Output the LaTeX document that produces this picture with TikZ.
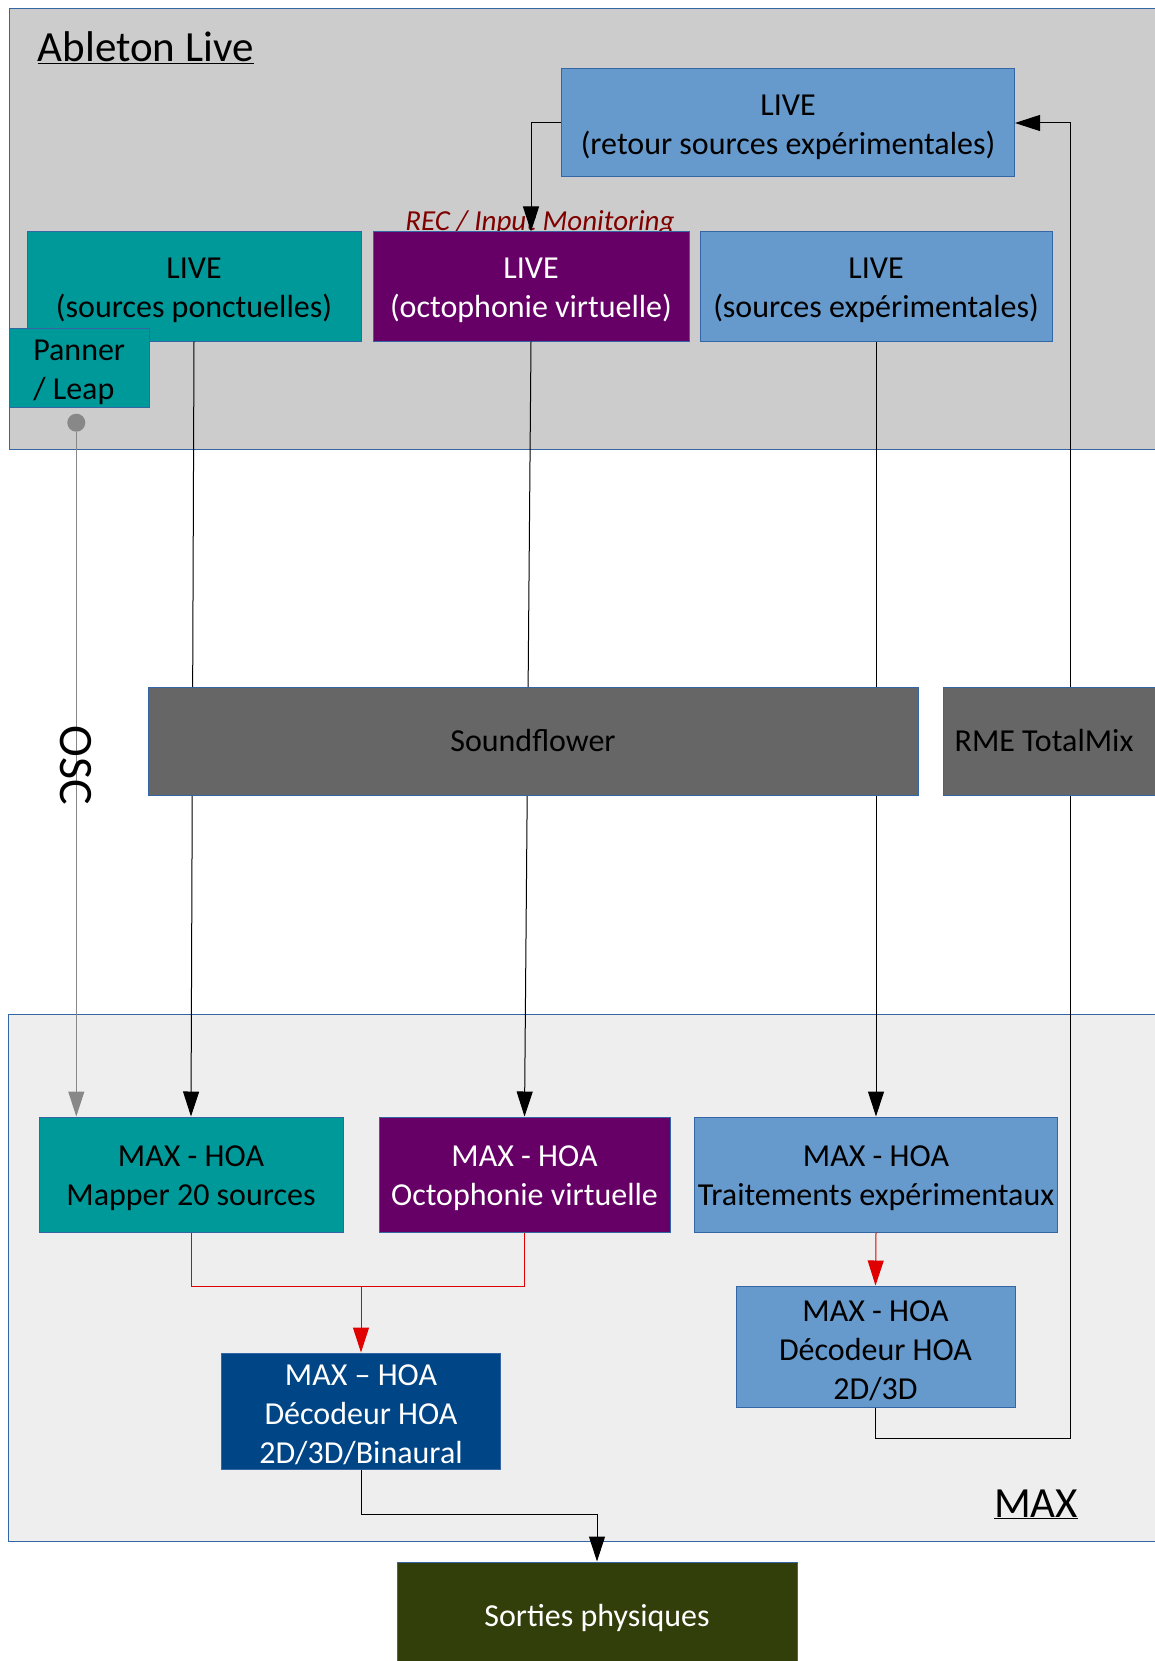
\documentclass[tikz,border=0pt]{standalone}
\usepackage{fontspec}
\setmainfont{Carlito}
\usetikzlibrary{arrows.meta}
\definecolor{cteal}{HTML}{009999}
\definecolor{cpurple}{HTML}{660066}
\definecolor{cblue}{HTML}{6699CC}
\definecolor{cdarkblue}{HTML}{004586}
\definecolor{cgraybox}{HTML}{666666}
\definecolor{colive}{HTML}{333F0A}
\definecolor{cborder}{HTML}{3465A4}
\definecolor{cpanelA}{HTML}{CCCCCC}
\definecolor{cpanelB}{HTML}{EEEEEE}
\definecolor{cdarkred}{HTML}{800000}
\definecolor{cred}{HTML}{E00000}
\definecolor{cgrayline}{HTML}{888888}
\newcommand\mytstrut{\rule{0pt}{29pt}}
\tikzset{
  box/.style={draw=cborder, line width=1pt, inner sep=0pt, align=center,
    font=\fontsize{32}{39}\selectfont},
  panel/.style={draw=cborder, line width=1pt},
  arr/.style={line width=1pt, -{Triangle[length=25pt,width=16pt]}},
  redarr/.style={draw=cred, line width=1pt, -{Triangle[length=25pt,width=16pt, fill=cred]}},
  grayarr/.style={draw=cgrayline, line width=1pt, -{Triangle[length=25pt,width=16pt, fill=cgrayline]}},
}
\begin{document}
\begin{tikzpicture}[x=1pt,y=-1pt]
\useasboundingbox (0,0) rectangle (1155,1661);
\clip (0,0) rectangle (1155,1661);
\fill[white] (0,0) rectangle (1155,1661);

% panels
\draw[panel, fill=cpanelA] (9.3,8.4) rectangle (1175,449.3);
\draw[panel, fill=cpanelB] (8.8,1014) rectangle (1175,1541);

\node[anchor=base west, inner sep=0pt, font=\fontsize{43}{50}\selectfont] (titleA) at (37.5,61.7) {\underline{Ableton Live}};
\node[anchor=base west, inner sep=0pt, font=\fontsize{43}{50}\selectfont] (titleB) at (994,1517) {\underline{MAX}};

\node[anchor=base, inner sep=0pt, text=cdarkred, font=\fontsize{29}{34}\selectfont\itshape] (rec) at (540,231) {REC / Input Monitoring};

% coordinates for connectors
\coordinate (rt) at (1070,1438);
\coordinate (rj) at (361,1286.5);

% boxes
\node[box, fill=cblue, minimum width=453, minimum height=108] (retour) at (788,123) {\mytstrut LIVE\\(retour sources expérimentales)};
\node[box, fill=cteal, minimum width=334, minimum height=109] (ponct) at (194,286.5) {\mytstrut LIVE\\(sources ponctuelles)};
\node[box, fill=cpurple, text=white, minimum width=316, minimum height=109] (octo) at (531,286.5) {\mytstrut LIVE\\(octophonie virtuelle)};
\node[box, fill=cblue, minimum width=352, minimum height=109] (exp) at (876,286.5) {\mytstrut LIVE\\(sources expérimentales)};
\node[box, fill=cteal, minimum width=139.7, minimum height=79.7, align=left] (panner) at (79.2,368) {\mytstrut Panner\\/ Leap};
\node[circle, fill=cgrayline, inner sep=0pt, minimum size=18] (dot) at (76.3,422.7) {};

\node[box, fill=cpurple, text=white, minimum width=291, minimum height=115] (maxocto) at (524.5,1174.5) {\mytstrut MAX - HOA\\Octophonie virtuelle};
\node[box, fill=cteal, minimum width=304, minimum height=115] (mapper) at (191,1174.5) {\mytstrut MAX - HOA\\Mapper 20 sources};
\node[box, fill=cblue, minimum width=363.5, minimum height=115] (trait) at (876,1174.5) {\mytstrut MAX - HOA\\Traitements expérimentaux};
\node[box, fill=cblue, minimum width=279, minimum height=121] (dec) at (875.5,1346.5) {\mytstrut MAX - HOA\\Décodeur HOA\\2D/3D};
\node[box, fill=cdarkblue, text=white, minimum width=279, minimum height=116] (bin) at (361,1411) {\mytstrut MAX – HOA\\Décodeur HOA\\2D/3D/Binaural};
\node[box, fill=colive, text=white, minimum width=400, minimum height=112] (sorties) at (597,1618) {Sorties physiques};

% connectors (behind middle boxes)
\draw[arr] (ponct.south) -- (mapper.north);
\draw[arr] (octo.south) -- (maxocto.north);
\draw[arr] (exp.south) -- (trait.north);
\draw[arr] (dec.south) |- (rt) |- (retour.east);
\draw[arr] (retour.west) -| (octo.north);
\draw[grayarr] (dot) -- (dot |- mapper.north);
\draw[draw=cred, line width=1pt] (mapper.south) |- (rj) -| (maxocto.south);
\draw[redarr] (rj) -- (bin.north);
\draw[redarr] (trait.south) -- (dec.north);
\draw[arr] (bin.south) -- ++(0,45) -| (sorties.north);

% middle boxes drawn over lines
\node[box, fill=cgraybox, minimum width=770, minimum height=108] (sf) at (533,741) {Soundflower};
\node[box, fill=cgraybox, minimum width=232, minimum height=108] (rme) at (1059,741) {\hspace*{-30pt}RME TotalMix};

\node[rotate=-90, inner sep=0pt, font=\fontsize{48}{54}\selectfont] (osc) at (75.5,765) {OSC};
\end{tikzpicture}
\end{document}
